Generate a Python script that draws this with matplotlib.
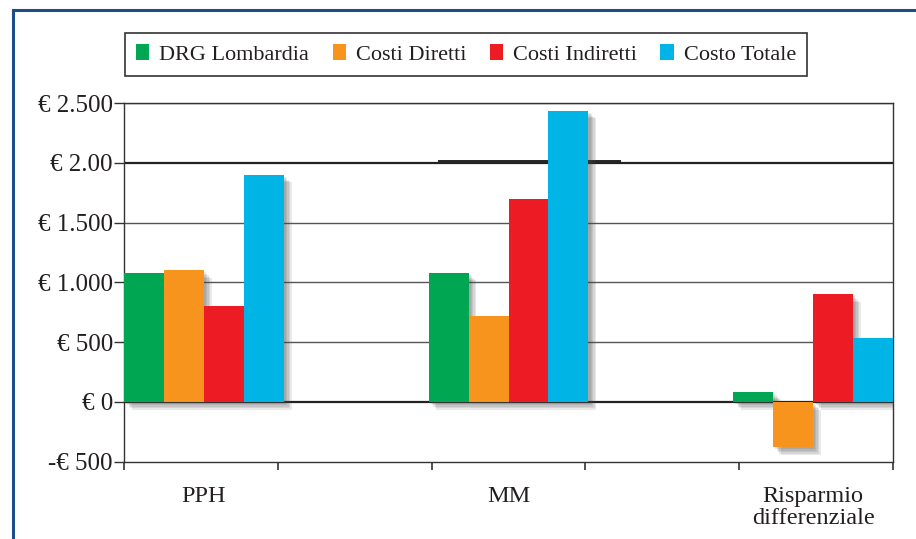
import matplotlib.pyplot as plt
import matplotlib.patheffects as pe
import matplotlib.transforms as mtransforms
from matplotlib.patches import Patch
from matplotlib.lines import Line2D
import numpy as np

plt.rcParams['font.family'] = ['Liberation Serif', 'DejaVu Serif']

# data
categories = ['PPH', 'MM', 'Risparmio\ndifferenziale']
series = ['DRG Lombardia', 'Costi Diretti', 'Costi Indiretti', 'Costo Totale']
drg = [1080, 1080, 85]
diretti = [1100, 720, -380]
indiretti = [800, 1700, 900]
totale = [1900, 2435, 535]
ytick_values = [-500, 0, 500, 1000, 1500, 2000, 2500]
ytick_labels = ['-€ 500', '€ 0', '€ 500', '€ 1.000', '€ 1.500', '€ 2.00', '€ 2.500']

colors = ['#00a651', '#f7941d', '#ed1c24', '#00b4e6']
ink = '#231f20'

fig = plt.figure(figsize=(9.16, 5.39), dpi=100)
ax = fig.add_axes([124 / 916, 1 - 461.7 / 539, 769 / 916, (461.7 - 103) / 539])

width = 0.26
centers = np.linspace(2 * width, 5 - 2 * width, len(categories))

shadow = [pe.SimplePatchShadow(offset=(d, -d), shadow_rgbFace='#4a4a4a', alpha=0.12)
          for d in (1.5, 2.5, 3.5, 4.5, 5.5)] + [pe.Normal()]

for i, (vals, c) in enumerate(zip([drg, diretti, indiretti, totale], colors)):
    bars = ax.bar(centers + (i - 1.5) * width, vals, width, color=c, zorder=3, linewidth=0)
    for b in bars:
        b.set_path_effects(shadow)

# grid lines
for v in ytick_values[1:]:
    heavy = v in (0, 2000)
    ax.axhline(v, color='#222222' if heavy else '#555555', lw=1.6 if heavy else 1.0, zorder=1)
ax.axhline(2012, xmin=0.41, xmax=0.645, color='#222222', lw=1.4, zorder=1)

ax.set_xlim(0, 5)
ax.set_ylim(-500, 2500)
ax.set_yticks(ytick_values)
ax.set_yticklabels(ytick_labels)
ax.set_xticks(np.linspace(0, 5, 6))
ax.tick_params(axis='y', direction='out', length=7, width=1, pad=1, labelsize=18,
               color='#333333', labelcolor=ink)
ax.tick_params(axis='x', direction='out', length=6, width=1.2, color='#333333', labelbottom=False)
for s in ax.spines.values():
    s.set_color('#333333')
    s.set_linewidth(1.0)

trans = mtransforms.blended_transform_factory(ax.transData, ax.transAxes)
for x, cat in zip(centers, categories):
    ax.text(x, -0.068, cat, transform=trans, ha='center', va='top', fontsize=17.5,
            color=ink, linespacing=1.05)

handles = [Patch(facecolor=c, edgecolor='none') for c in colors]
leg = fig.legend(handles, series, loc='upper left', bbox_to_anchor=(125 / 916, 1 - 33 / 539),
                 ncol=4, frameon=True, fancybox=False, edgecolor='black', borderaxespad=0,
                 fontsize=16, handlelength=0.6, handleheight=0.75, handletextpad=0.45,
                 columnspacing=1.05, borderpad=0.5)
leg.get_frame().set_linewidth(1.2)
for t in leg.get_texts():
    t.set_color(ink)

# blue frame around the figure
frame_col = '#1d4e89'
fig.add_artist(Line2D([13 / 916, 13 / 916], [0, 1 - 10 / 539], color=frame_col, lw=2.2,
                      transform=fig.transFigure))
fig.add_artist(Line2D([13 / 916, 1], [1 - 10 / 539, 1 - 10 / 539], color=frame_col, lw=2.2,
                      transform=fig.transFigure))

fig.savefig('out.png', dpi=100)
